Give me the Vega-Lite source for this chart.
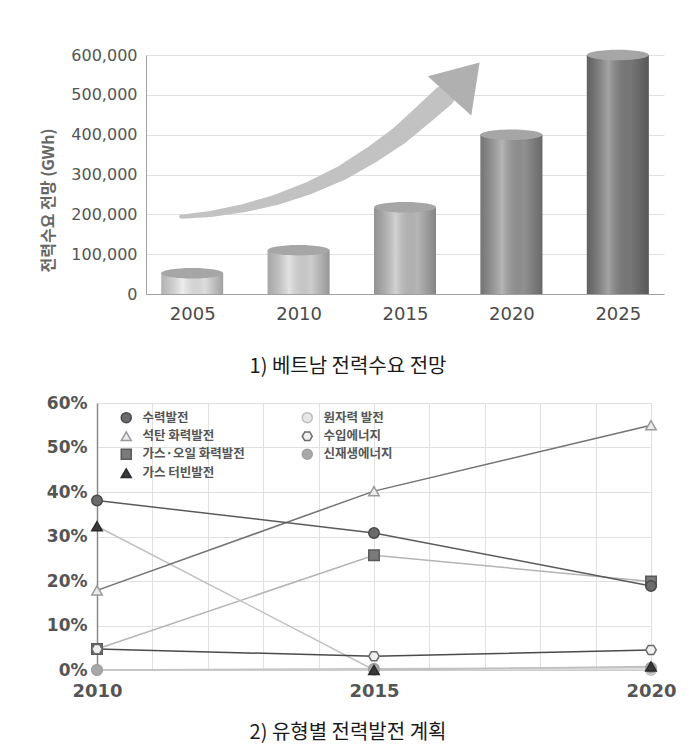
{
  "$schema": "https://vega.github.io/schema/vega-lite/v6.json",
  "background": "white",
  "padding": {"left": 40, "top": 47, "right": 5, "bottom": 5},
  "config": {"view": {"stroke": null}, "font": "DejaVu Sans"},
  "spacing": 17,
  "resolve": {
    "scale": {"color": "independent", "fill": "independent", "stroke": "independent", "shape": "independent", "size": "independent", "strokeWidth": "independent"},
    "legend": {"color": "independent", "fill": "independent", "stroke": "independent", "shape": "independent", "size": "independent", "strokeWidth": "independent"}
  },
  "vconcat": [
    {
      "bounds": "flush",
      "spacing": 0,
      "hconcat": [
        {
          "width": 49,
          "height": 10,
          "data": {"values": [{}]},
          "mark": {"type": "text", "text": ""},
          "encoding": {}
        },
        {
          "width": 518,
          "height": 239,
          "title": {"text": "1) 베트남 전력수요 전망", "orient": "bottom", "anchor": "middle", "frame": "group", "dx": -57, "offset": 34, "font": "Noto Sans CJK KR", "fontSize": 20, "fontWeight": "normal", "color": "#1a1a1a"},
          "encoding": {
            "x": {"field": "year", "type": "quantitative", "scale": {"domain": [2003.065, 2026.935], "nice": false, "zero": false},
                  "axis": {"title": null, "values": [2005, 2010, 2015, 2020, 2025], "format": "d", "labelFlush": false, "labelOverlap": false, "labelAngle": 0, "labelFont": "DejaVu Sans", "labelFontSize": 18, "labelColor": "#4a4a4a", "labelPadding": 11, "ticks": false, "tickSize": 0, "domainColor": "#a0a0a0", "grid": false}},
            "y": {"field": "value", "type": "quantitative", "title": "전력수요 전망 (GWh)",
                  "scale": {"domain": [0, 600000], "nice": false},
                  "axis": {"values": [0, 100000, 200000, 300000, 400000, 500000, 600000], "format": ",d", "grid": true, "labelOverlap": false, "labelFont": "DejaVu Sans", "labelFontSize": 16, "labelColor": "#555", "labelPadding": 9, "ticks": false, "tickSize": 0, "domainColor": "#a0a0a0", "gridColor": "#e0e0e0", "titleFont": "Noto Sans CJK KR", "titleFontSize": 16, "titleFontWeight": "bold", "titleColor": "#666", "titlePadding": 14, "titleY": 145}}
          },
          "layer": [
            {
              "data": {"values": [
                {"year": 2004.48, "value": 194100},
                {"year": 2005.86, "value": 200800},
                {"year": 2007.40, "value": 215200},
                {"year": 2008.92, "value": 236000},
                {"year": 2010.47, "value": 265400},
                {"year": 2012.00, "value": 303000},
                {"year": 2013.54, "value": 353200},
                {"year": 2014.77, "value": 399200},
                {"year": 2015.84, "value": 449400},
                {"year": 2016.84, "value": 497100}
              ]},
              "mark": {"type": "trail", "color": "#c2c2c2"},
              "encoding": {
                "size": {"field": "year", "type": "quantitative", "scale": {"domain": [2004.48, 2016.84], "range": [4, 22], "zero": false}, "legend": null}
              }
            },
            {
              "data": {"values": [{"year": 2017.80, "value": 539300}]},
              "mark": {"type": "point", "shape": "M0,-1 L1.3,1 L-1.3,1 Z", "size": 2025, "angle": 42, "filled": true, "color": "#b0b0b0", "opacity": 1}
            },
            {
              "data": {"values": [
                {"year": 2005, "value": 52000},
                {"year": 2010, "value": 110000},
                {"year": 2015, "value": 218000},
                {"year": 2020, "value": 400000},
                {"year": 2025, "value": 600000}
              ]},
              "layer": [
                {
                  "mark": {"type": "bar", "orient": "vertical", "width": 62},
                  "encoding": {
                    "color": {"field": "year", "type": "ordinal", "scale": {"range": ["#e6e6e6", "#d6d6d6", "#bdbdbd", "#969696", "#7c7c7c"]}, "legend": null}
                  }
                },
                {
                  "mark": {"type": "bar", "orient": "vertical", "width": 62, "color": {"gradient": "linear", "x1": 0, "x2": 1, "y1": 0, "y2": 0, "stops": [
                    {"offset": 0, "color": "rgba(0,0,0,0.22)"},
                    {"offset": 0.35, "color": "rgba(255,255,255,0.30)"},
                    {"offset": 0.7, "color": "rgba(0,0,0,0.04)"},
                    {"offset": 1, "color": "rgba(0,0,0,0.30)"}
                  ]}}
                },
                {
                  "mark": {"type": "point", "shape": "M-1,0 A1,0.17 0 1,0 1,0 A1,0.17 0 1,0 -1,0 Z", "size": 3844, "filled": true, "color": "#a6a6a6", "opacity": 1}
                }
              ]
            }
          ]
        }
      ]
    },
    {
      "width": 554,
      "height": 267,
      "title": {"text": "2) 유형별 전력발전 계획", "orient": "bottom", "anchor": "middle", "frame": "group", "dx": -26, "offset": 23, "font": "Noto Sans CJK KR", "fontSize": 20, "fontWeight": "normal", "color": "#1a1a1a"},
      "data": {"values": [
        {"year": 2010, "type": "원자력 발전", "share": 0},
        {"year": 2015, "type": "원자력 발전", "share": 0},
        {"year": 2020, "type": "원자력 발전", "share": 0},
        {"year": 2010, "type": "신재생에너지", "share": 0},
        {"year": 2015, "type": "신재생에너지", "share": 0.3},
        {"year": 2020, "type": "신재생에너지", "share": 0.5},
        {"year": 2010, "type": "가스·오일 화력발전", "share": 4.7},
        {"year": 2015, "type": "가스·오일 화력발전", "share": 25.8},
        {"year": 2020, "type": "가스·오일 화력발전", "share": 19.9},
        {"year": 2010, "type": "가스 터빈발전", "share": 32.3},
        {"year": 2015, "type": "가스 터빈발전", "share": 0},
        {"year": 2020, "type": "가스 터빈발전", "share": 0.8},
        {"year": 2010, "type": "석탄 화력발전", "share": 17.9},
        {"year": 2015, "type": "석탄 화력발전", "share": 40.2},
        {"year": 2020, "type": "석탄 화력발전", "share": 55.0},
        {"year": 2010, "type": "수입에너지", "share": 4.7},
        {"year": 2015, "type": "수입에너지", "share": 3.1},
        {"year": 2020, "type": "수입에너지", "share": 4.5},
        {"year": 2010, "type": "수력발전", "share": 38.1},
        {"year": 2015, "type": "수력발전", "share": 30.8},
        {"year": 2020, "type": "수력발전", "share": 18.9}
      ]},
      "encoding": {
        "x": {"field": "year", "type": "quantitative", "scale": {"domain": [2010, 2020], "nice": false, "zero": false},
              "axis": {"title": null, "values": [2010, 2011, 2012, 2013, 2014, 2015, 2016, 2017, 2018, 2019, 2020], "labelExpr": "datum.value % 5 === 0 ? format(datum.value, 'd') : ''", "labelFlush": false, "labelOverlap": false, "grid": true, "gridColor": "#e0e0e0", "ticks": false, "tickSize": 0, "labelFont": "DejaVu Sans", "labelFontWeight": "bold", "labelFontSize": 18, "labelColor": "#555", "labelPadding": 12, "domainColor": "#c8c8c8"}},
        "y": {"field": "share", "type": "quantitative", "scale": {"domain": [0, 60], "nice": false},
              "axis": {"title": null, "values": [0, 10, 20, 30, 40, 50, 60], "labelExpr": "datum.value + '%'", "labelOverlap": false, "grid": true, "gridColor": "#e0e0e0", "ticks": false, "tickSize": 0, "domainColor": "#8a8a8a", "domainWidth": 1.5, "labelFont": "DejaVu Sans", "labelFontWeight": "bold", "labelFontSize": 17, "labelColor": "#555", "labelPadding": 10}}
      },
      "layer": [
        {
          "mark": {"type": "line"},
          "encoding": {
            "color": {"field": "type", "type": "nominal", "legend": null,
                      "scale": {"domain": ["가스 터빈발전", "가스·오일 화력발전", "석탄 화력발전", "수력발전", "수입에너지", "신재생에너지", "원자력 발전"],
                                "range": ["#c0c0c0", "#b4b4b4", "#727272", "#5a5a5a", "#4a4a4a", "#c4c4c4", "#cfcfcf"]}},
            "strokeWidth": {"field": "type", "type": "nominal", "legend": null,
                      "scale": {"domain": ["가스 터빈발전", "가스·오일 화력발전", "석탄 화력발전", "수력발전", "수입에너지", "신재생에너지", "원자력 발전"],
                                "range": [1.5, 1.5, 2, 2.5, 2.5, 2.5, 1.5]}}
          }
        },
        {
          "mark": {"type": "point", "filled": true, "size": 110, "opacity": 1, "strokeWidth": 1.5},
          "encoding": {
            "shape": {"field": "type", "type": "nominal", "title": null,
                      "scale": {"domain": ["수력발전", "석탄 화력발전", "가스·오일 화력발전", "가스 터빈발전", "원자력 발전", "수입에너지", "신재생에너지"],
                                "range": ["circle", "triangle-up", "square", "triangle-up", "circle", "M-1,0 L-0.5,-0.866 L0.5,-0.866 L1,0 L0.5,0.866 L-0.5,0.866 Z", "circle"]},
                      "legend": {"orient": "none", "legendX": 23, "legendY": 8, "columns": 2, "labelFont": "Noto Sans CJK KR", "labelFontSize": 12.5, "labelFontWeight": "bold", "labelColor": "#555", "symbolSize": 100, "rowPadding": 2, "columnPadding": 54, "labelOffset": 10, "padding": 0, "symbolStrokeWidth": 1.5}},
            "fill": {"field": "type", "type": "nominal", "title": null,
                     "scale": {"domain": ["수력발전", "석탄 화력발전", "가스·오일 화력발전", "가스 터빈발전", "원자력 발전", "수입에너지", "신재생에너지"],
                               "range": ["#6b6b6b", "#ececec", "#7a7a7a", "#3a3a3a", "#e6e6e6", "#f0f0f0", "#a8a8a8"]},
                     "legend": {"orient": "none", "legendX": 23, "legendY": 8, "columns": 2, "labelFont": "Noto Sans CJK KR", "labelFontSize": 12.5, "labelFontWeight": "bold", "labelColor": "#555", "symbolSize": 100, "rowPadding": 2, "columnPadding": 54, "labelOffset": 10, "padding": 0, "symbolStrokeWidth": 1.5}},
            "stroke": {"field": "type", "type": "nominal", "title": null,
                       "scale": {"domain": ["수력발전", "석탄 화력발전", "가스·오일 화력발전", "가스 터빈발전", "원자력 발전", "수입에너지", "신재생에너지"],
                                 "range": ["#4a4a4a", "#9a9a9a", "#5a5a5a", "#2a2a2a", "#bdbdbd", "#6a6a6a", "#a0a0a0"]},
                       "legend": {"orient": "none", "legendX": 23, "legendY": 8, "columns": 2, "labelFont": "Noto Sans CJK KR", "labelFontSize": 12.5, "labelFontWeight": "bold", "labelColor": "#555", "symbolSize": 100, "rowPadding": 2, "columnPadding": 54, "labelOffset": 10, "padding": 0, "symbolStrokeWidth": 1.5}}
          }
        }
      ]
    }
  ]
}
